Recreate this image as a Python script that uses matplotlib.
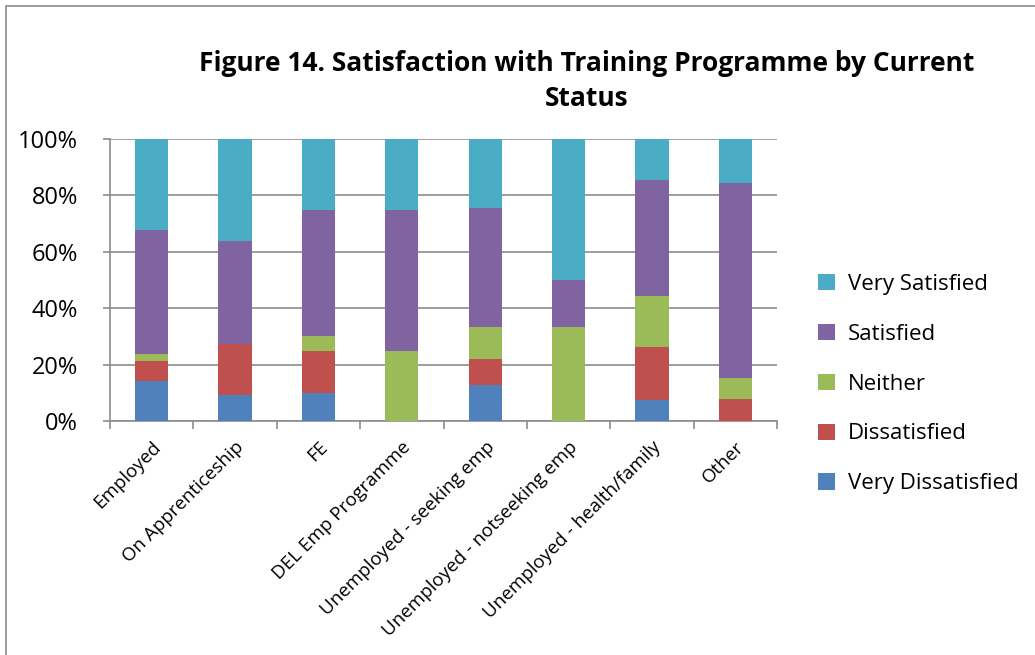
import matplotlib
matplotlib.use("Agg")
import matplotlib.pyplot as plt
from matplotlib.patches import Rectangle
import numpy as np

categories = ["Employed", "On Apprenticeship", "FE", "DEL Emp Programme",
              "Unemployed - seeking emp", "Unemployed - notseeking emp",
              "Unemployed - health/family", "Other"]
very_dissatisfied = [14.2, 9.1, 10.0, 0.0, 12.9, 0.0, 7.5, 0.0]
dissatisfied      = [6.9, 18.2, 15.0, 0.0, 9.1, 0.0, 18.6, 7.7]
neither           = [2.8, 0.0, 5.0, 25.0, 11.4, 33.3, 18.2, 7.7]
satisfied         = [43.7, 36.4, 45.0, 50.0, 42.3, 16.7, 41.0, 69.0]
very_satisfied    = [32.4, 36.3, 25.0, 25.0, 24.3, 50.0, 14.7, 15.6]
series_names = ["Very Dissatisfied", "Dissatisfied", "Neither", "Satisfied", "Very Satisfied"]
colors = ["#4F81BD", "#C0504D", "#9BBB59", "#8064A2", "#4BACC6"]
yticks = [0, 20, 40, 60, 80, 100]

plt.rcParams['font.family'] = ['Open Sans', 'DejaVu Sans']

fig = plt.figure(figsize=(10.35, 6.55), dpi=100)
W, H = 1035, 655
# outer frame
fig.patches.append(Rectangle((6/W, -0.1), 1.2, (H-6)/H + 0.1, transform=fig.transFigure,
                             fill=False, edgecolor="#8c8c8c", linewidth=1.2))

ax = fig.add_axes([110/W, 1-421/H, (777-110)/W, (421-139)/H])
data = [very_dissatisfied, dissatisfied, neither, satisfied, very_satisfied]
x = np.arange(len(categories))
bottom = np.zeros(len(categories))
handles = []
for vals, name, c in zip(data, series_names, colors):
    b = ax.bar(x, vals, 0.4, bottom=bottom, color=c, label=name, zorder=3)
    handles.append(b)
    bottom += np.array(vals)

ax.set_xlim(-0.5, len(categories) - 0.5)
ax.set_ylim(0, 100)
ax.set_yticks(yticks)
ax.set_yticklabels([f"{t}%" for t in yticks], fontsize=17)
ax.yaxis.grid(True, color="#8c8c8c", linewidth=1.2, zorder=0)
ax.set_axisbelow(True)
for s in ["top", "right"]:
    ax.spines[s].set_visible(False)
for s in ["left", "bottom"]:
    ax.spines[s].set_color("#8c8c8c")
    ax.spines[s].set_linewidth(1.2)
ax.tick_params(axis="y", length=5, color="#8c8c8c", width=1.2, pad=18)
ax.set_xticks(np.arange(-0.5, len(categories), 1.0), minor=False)
ax.set_xticklabels([])
ax.tick_params(axis="x", which="major", length=6, color="#8c8c8c", width=1.2)
ax.set_xticks(x, minor=True)
ax.set_xticklabels(categories, minor=True, rotation=45, ha="right", va="top",
                   rotation_mode="anchor", fontsize=13.5)
ax.tick_params(axis="x", which="minor", length=0, pad=12)

fig.text(587/W, 1-81/H, "Figure 14. Satisfaction with Training Programme by Current\nStatus",
         ha="center", va="center", fontsize=19, fontweight="bold", linespacing=1.42)

leg = ax.legend(handles[::-1], series_names[::-1], loc="center left",
                bbox_to_anchor=(798/W, 1-384/H), bbox_transform=fig.transFigure,
                frameon=False, fontsize=16, handlelength=0.75, handleheight=0.75,
                labelspacing=1.3, handletextpad=0.6)

fig.savefig("out.png", dpi=100)
